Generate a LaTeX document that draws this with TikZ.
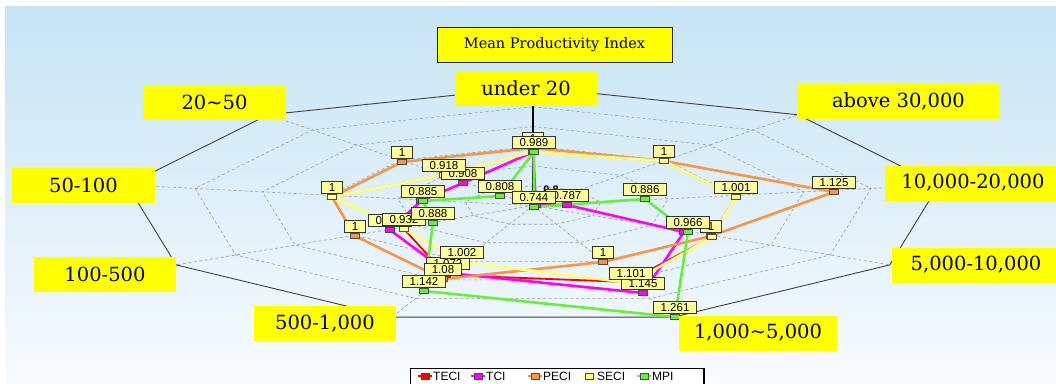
\documentclass[tikz,border=0pt]{standalone}
\usepackage{fontspec}
\setmainfont{DejaVu Serif}
\newfontfamily\valfont{Liberation Sans}
\usetikzlibrary{calc}

\definecolor{bgtop}{RGB}{198,228,244}
\definecolor{bgbot}{RGB}{247,251,254}
\definecolor{labelyellow}{RGB}{255,255,0}
\definecolor{valfill}{RGB}{255,255,153}
\definecolor{teci}{RGB}{255,0,0}
\definecolor{tci}{RGB}{255,0,255}
\definecolor{peci}{RGB}{246,150,70}
\definecolor{seci}{RGB}{255,255,125}
\definecolor{mpi}{RGB}{102,240,60}

\tikzset{
    axislabel/.style={
        fill=labelyellow, inner sep=0pt,
        minimum height=35pt,
        font=\fontsize{19.5}{22}\selectfont
    },
    gridline/.style={gray!80, line width=0.6pt, dash pattern=on 3pt off 2.5pt},
    series/.style={line width=2.6pt, line join=round},
    dotbox/.style={draw=black!70, line width=0.5pt, minimum width=9pt, minimum height=5pt, inner sep=0pt},
    valbox/.style={
        draw=black!80, line width=0.8pt, fill=valfill,
        inner xsep=7pt, inner ysep=2pt, text height=8.3pt, text depth=0pt,
        anchor=south,
        font=\valfont\fontsize{11.5}{12}\selectfont
    }
}

\begin{document}
\begin{tikzpicture}[x=1pt, y=-1pt]
    \useasboundingbox (0,0) rectangle (1056,383);
    \fill[white] (0,0) rectangle (1056,383);
    \shade[top color=bgtop, bottom color=bgbot] (5,6) rectangle (1056,383);

    % radar frame: centre and the nine axis ends
    \coordinate (C) at (533,205.6);
    \foreach \k in {0,...,8}
        \coordinate (V\k) at ({533+412*cos(90-40*\k)}, {205.6-118.6*sin(90-40*\k)});

    \foreach \f in {0.167,0.333,0.5,0.667,0.833}
        \draw[gridline] ($(C)!\f!(V0)$) \foreach \k in {1,...,8} { -- ($(C)!\f!(V\k)$) } -- cycle;
    \foreach \k in {1,...,8}
        \draw[gridline] (C) -- (V\k);
    \draw[black!75, line width=0.9pt] (V0) \foreach \k in {1,...,8} { -- (V\k) } -- cycle;
    \draw[black, line width=2pt] (C) -- (V0);

    \node[font=\valfont\bfseries\fontsize{11}{12}\selectfont, inner sep=0pt] (tick08) at (551,190) {0.8};

    % data points (axis 0 = under 20, then clockwise)
    \foreach \n/\x/\y in {
        E0/533/152, E1/664/161, E2/736/197, E3/712/237, E4/627/282,
        E5/446/275, E6/404/229, E7/332/197, E8/444/175,
        T0/533/152, T1/536/205, T2/567/205, T3/684/232, T4/643/293,
        T5/448/273, T6/390/230, T7/421/201, T8/463/183,
        P0/533/148, P1/664/161, P2/834/192, P3/711/236, P4/603/262,
        P5/443/279, P6/355/236, P7/332/197, P8/402/162,
        S0/533/152, S1/664/161, S2/736/197, S3/712/237, S4/631/283,
        S5/462/262, S6/404/229, S7/332/197, S8/444/175,
        M0/534/152, M1/534/207, M2/645/199, M3/688/232, M4/675/317,
        M5/424/291, M6/433/223, M7/423/201, M8/500/196}
        \coordinate (\n) at (\x,\y);

    \draw[series, teci, line width=1.8pt] (E0) -- (E1) -- (E2) -- (E3) -- (E4) -- (E5) -- (E6) -- (E7) -- (E8) -- cycle;
    \draw[series, tci] (T0) -- (T1) -- (T2) -- (T3) -- (T4) -- (T5) -- (T6) -- (T7) -- (T8) -- cycle;
    \draw[series, peci] (P0) -- (P1) -- (P2) -- (P3) -- (P4) -- (P5) -- (P6) -- (P7) -- (P8) -- cycle;
    \draw[series, seci] (S0) -- (S1) -- (S2) -- (S3) -- (S4) -- (S5) -- (S6) -- (S7) -- (S8) -- cycle;
    \draw[series, mpi] (M0) -- (M1) -- (M2) -- (M3) -- (M4) -- (M5) -- (M6) -- (M7) -- (M8) -- cycle;

    % markers
    \foreach \s/\c in {E/teci, T/tci, P/peci, S/seci, M/mpi}
        \foreach \k in {0,...,8}
            \node[dotbox, fill=\c] (d\s\k) at (\s\k) {};

    % value boxes, back to front
    \foreach \n/\lab in {
        P0/1, T8/0.908, T6/0.961, T5/1.072, T2/0.787, P3/1, T4/1.145,
        M0/0.989, S8/0.918, M8/0.808, P8/1, P7/1, M7/0.885, P6/1,
        S6/0.932, M6/0.888, S5/1.002, P5/1.08, M5/1.142, M1/0.744,
        M2/0.886, P1/1, S2/1.001, P2/1.125, M3/0.966, P4/1, S4/1.101, M4/1.261}
        \node[valbox] (b\n) at (d\n.north) {\lab};

    % axis labels
    \node[draw=black!85, line width=0.9pt, fill=labelyellow, minimum width=235pt, minimum height=35pt,
          font=\fontsize{14.5}{17}\selectfont] (title) at (554.5,44.5) {Mean Productivity Index};
    \node[axislabel, minimum width=142pt] (lbl0) at (526,88) {under 20};
    \node[axislabel, minimum width=203pt] (lbl1) at (898.5,101.5) {above 30,000};
    \node[axislabel, minimum width=176pt] (lbl2) at (973,183) {10,000-20,000};
    \node[axislabel, minimum width=168pt] (lbl3) at (976,265) {5,000-10,000};
    \node[axislabel, minimum width=158pt] (lbl4) at (758,333) {1,000\textasciitilde5,000};
    \node[axislabel, minimum width=142pt] (lbl5) at (325,323.5) {500-1,000};
    \node[axislabel, minimum width=142pt] (lbl6) at (105,274.5) {100-500};
    \node[axislabel, minimum width=143pt] (lbl7) at (83.5,185.5) {50-100};
    \node[axislabel, minimum width=143pt] (lbl8) at (214.5,102.5) {20\textasciitilde50};

    % legend
    \node[draw=black, line width=0.8pt, fill=white, minimum width=293pt, minimum height=16pt,
          anchor=north west, inner sep=0pt] (legend) at (410,368) {};
    \draw[black, line width=2pt] (legend.north east) -- (legend.south east);
    \foreach \c/\lab/\x in {teci/TECI/425, tci/TCI/478, peci/PECI/535, seci/SECI/589, mpi/MPI/644} {
        \draw[\c, line width=2pt] (\x-7,376) -- (\x+7,376);
        \node[dotbox, fill=\c, minimum width=8pt, minimum height=6pt] (key\lab) at (\x,376) {};
        \node[anchor=west, inner sep=0pt, font=\valfont\fontsize{12}{13}\selectfont] (leg\lab) at (\x+8,376) {\lab};
    }
\end{tikzpicture}
\end{document}
